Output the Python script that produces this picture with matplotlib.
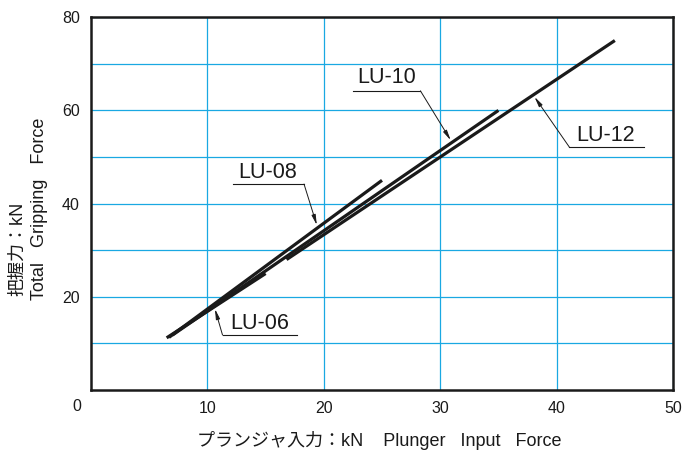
import matplotlib
matplotlib.use('Agg')
import matplotlib.pyplot as plt

plt.rcParams['font.family'] = ['Liberation Sans', 'Noto Sans CJK JP', 'DejaVu Sans']

# line data (kN)
models = ['LU-06', 'LU-08', 'LU-10', 'LU-12']
input_start = [6.5, 6.7, 7.0, 16.8]
grip_start = [11.2, 11.3, 11.8, 28.0]
input_end = [15.0, 25.0, 35.0, 45.0]
grip_end = [25.0, 45.0, 60.0, 75.0]

# label placement: text centre, underline span, arrow tip
text_xy = [(14.5, 14.3), (15.2, 46.7), (25.4, 67.0), (44.2, 54.6)]
underline = [(11.3, 17.7, 11.8), (12.2, 18.3, 44.2), (22.5, 28.3, 64.2), (41.1, 47.5, 52.1)]
leader_from = [(11.3, 11.8), (18.3, 44.2), (28.3, 64.2), (41.1, 52.1)]
arrow_tip = [(10.65, 17.4), (19.4, 35.4), (30.9, 53.6), (38.1, 62.9)]

xticks = [10, 20, 30, 40, 50]
yticks = [10, 20, 30, 40, 50, 60, 70, 80]
ytick_labels = ['', '20', '', '40', '', '60', '', '80']

grid_col = '#1aa8e2'
ink = '#1a1a1a'

fig = plt.figure(figsize=(6.84, 4.53), dpi=100)
ax = fig.add_axes([0.133, 0.139, 0.851, 0.823])

for i in range(len(models)):
    ax.plot([input_start[i], input_end[i]], [grip_start[i], grip_end[i]],
            color=ink, lw=2.3, solid_capstyle='butt', zorder=3)

    tx, ty = text_xy[i]
    ax.text(tx, ty, models[i], fontsize=15.5, ha='center', va='center', color=ink)
    u0, u1, uy = underline[i]
    ax.plot([u0, u1], [uy, uy], color=ink, lw=0.8)
    ax.annotate('', xy=arrow_tip[i], xytext=leader_from[i],
                arrowprops=dict(arrowstyle='-|>,head_length=0.6,head_width=0.12',
                                color=ink, lw=0.7, shrinkA=0, shrinkB=0))

ax.set_xlim(0, 50)
ax.set_ylim(0, 80)
ax.set_xticks(xticks)
ax.set_yticks(yticks)
ax.set_yticklabels(ytick_labels)
ax.tick_params(length=0, labelsize=11.5, pad=8, colors=ink)
ax.grid(True, color=grid_col, lw=0.9)
ax.set_axisbelow(True)
for s in ax.spines.values():
    s.set_linewidth(1.8)
    s.set_color(ink)

ax.text(-0.025, -0.045, '0', transform=ax.transAxes, fontsize=11.5,
        ha='center', va='center', color=ink)

# axis titles
fig.text(197 / 684, 1 - 440 / 453, 'プランジャ入力：kN    Plunger   Input   Force',
         fontsize=13, ha='left', va='center', color=ink)
fig.text(18 / 684, 1 - 296 / 453, '把握力：kN', rotation=90,
         fontsize=13, ha='center', va='bottom', color=ink)
fig.text(40 / 684, 1 - 300 / 453, 'Total   Gripping   Force', rotation=90,
         fontsize=13, ha='center', va='bottom', color=ink)

fig.savefig('out.png', dpi=100)
